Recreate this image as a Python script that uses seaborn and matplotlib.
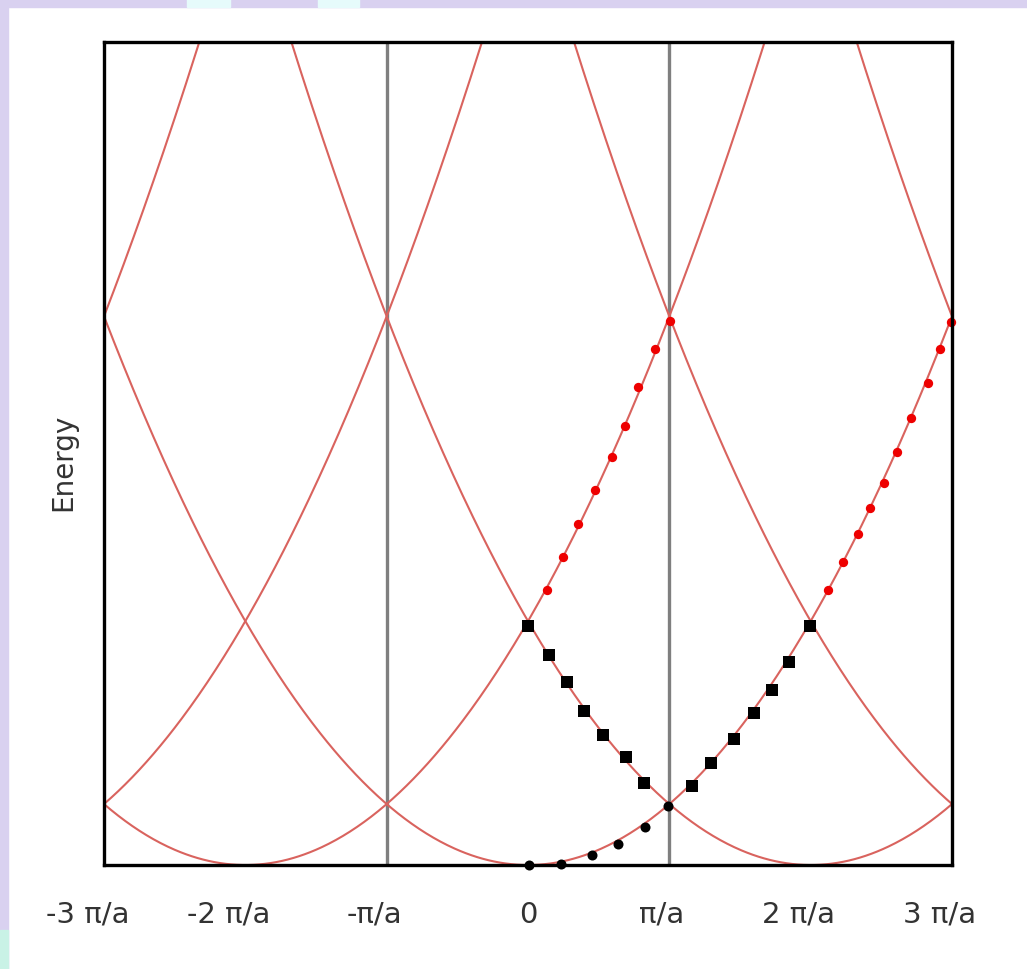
import numpy as np
import pandas as pd
import matplotlib
matplotlib.use("Agg")
import matplotlib.pyplot as plt
import matplotlib.transforms as mtransforms
import seaborn as sns
from matplotlib.patches import Rectangle

# ---- data (k in units of pi/a, energy in units of (hbar pi/a)^2/2m) ----
band_centers = [-6, -4, -2, 0, 2, 4, 6]          # reciprocal lattice vectors (pi/a)
zone_edges = [-1, 1]
tick_pos = [-3, -2, -1, 0, 1, 2, 3]
tick_labels = ["-3 \u03c0/a", "-2 \u03c0/a", "-\u03c0/a", "0", "\u03c0/a", "2 \u03c0/a", "3 \u03c0/a"]

black_dot_k = [0.01, 0.23, 0.45, 0.64, 0.83, 0.99]
black_dot_E = [0.0, 0.02, 0.16, 0.34, 0.62, 0.97]

sq_a_k = [0.0, 0.149, 0.276, 0.396, 0.531, 0.694, 0.821]
sq_a_E = [3.92, 3.44, 3.00, 2.52, 2.13, 1.77, 1.34]
sq_b_k = [1.161, 1.295, 1.458, 1.599, 1.727, 1.847, 1.996]
sq_b_E = [1.30, 1.67, 2.07, 2.49, 2.87, 3.33, 3.92]

red_a_k = [0.134, 0.248, 0.354, 0.474, 0.595, 0.687, 0.779, 0.899, 1.005]
red_a_E = [4.51, 5.05, 5.59, 6.15, 6.69, 7.20, 7.84, 8.46, 8.92]
red_b_k = [2.123, 2.229, 2.335, 2.420, 2.519, 2.611, 2.711, 2.831, 2.916, 2.994]
red_b_E = [4.51, 4.97, 5.43, 5.85, 6.26, 6.77, 7.34, 7.90, 8.46, 8.90]

k_min, k_max = -3, 3
E_max = 13.5

# layout: horizontal nudges (pixels) of the tick labels
label_nudge_px = [-16, -17, -12, 0, -8, -12, -12]

# ---- build tables ----
kk = np.linspace(k_min, k_max, 601)
curves = pd.concat(
    [pd.DataFrame({"k": kk, "E": (kk - g) ** 2, "band": str(g)}) for g in band_centers],
    ignore_index=True,
)
dots = pd.DataFrame({"k": black_dot_k, "E": black_dot_E})
squares = pd.DataFrame({"k": sq_a_k + sq_b_k, "E": sq_a_E + sq_b_E})
reds = pd.DataFrame({"k": red_a_k + red_b_k, "E": red_a_E + red_b_E})

sns.set_theme(style="white")
plt.rcParams["font.family"] = ["DejaVu Sans"]

fig = plt.figure(figsize=(10.27, 9.70), dpi=100)
fig.patch.set_facecolor("white")
# decorative frame strips
fig.patches.append(Rectangle((0, 0.992), 1, 0.008, transform=fig.transFigure, color="#d9d1f0", zorder=0))
fig.patches.append(Rectangle((0, 0), 0.008, 1, transform=fig.transFigure, color="#d9d1f0", zorder=0))
fig.patches.append(Rectangle((0, 0), 0.008, 0.04, transform=fig.transFigure, color="#c9f2e6", zorder=0))
fig.patches.append(Rectangle((0.182, 0.992), 0.042, 0.008, transform=fig.transFigure, color="#e6fbfb", zorder=0))
fig.patches.append(Rectangle((0.31, 0.992), 0.04, 0.008, transform=fig.transFigure, color="#e6fbfb", zorder=0))

ax = fig.add_axes([104 / 1027, 1 - 866 / 970, (952 - 104) / 1027, (866 - 43) / 970])
ax.set_facecolor("white")

for xe in zone_edges:
    ax.axvline(xe, color="#7f7f7f", lw=2.4, zorder=1)

sns.lineplot(data=curves, x="k", y="E", units="band", estimator=None,
             color="#d9635e", lw=1.5, ax=ax, zorder=2, sort=False)

sns.scatterplot(data=dots, x="k", y="E", marker="o", s=52, color="black",
                edgecolor="black", linewidth=0, ax=ax, zorder=4, clip_on=False)
sns.scatterplot(data=squares, x="k", y="E", marker="s", s=80, color="black",
                edgecolor="black", linewidth=0, ax=ax, zorder=4, clip_on=False)
sns.scatterplot(data=reds, x="k", y="E", marker="o", s=45, color="#ee0000",
                edgecolor="#ee0000", linewidth=0, ax=ax, zorder=4, clip_on=False)

ax.set_xlim(k_min, k_max)
ax.set_ylim(0, E_max)
ax.set_xticks(tick_pos)
ax.set_xticklabels(tick_labels)
ax.set_yticks([])
ax.set_xlabel("")
ax.set_ylabel("Energy", fontsize=20, color="#333333")
ax.yaxis.set_label_coords(-0.032, 0.49)
ax.tick_params(axis="x", length=0, pad=25, labelsize=21, labelcolor="#333333")
for lab, dx in zip(ax.get_xticklabels(), label_nudge_px):
    lab.set_transform(lab.get_transform() +
                      mtransforms.ScaledTranslation(dx / 100, 0, fig.dpi_scale_trans))
for sp in ax.spines.values():
    sp.set_color("black")
    sp.set_linewidth(2.4)
    sp.set_zorder(5)

fig.savefig("out.png", dpi=100, facecolor=fig.get_facecolor())
